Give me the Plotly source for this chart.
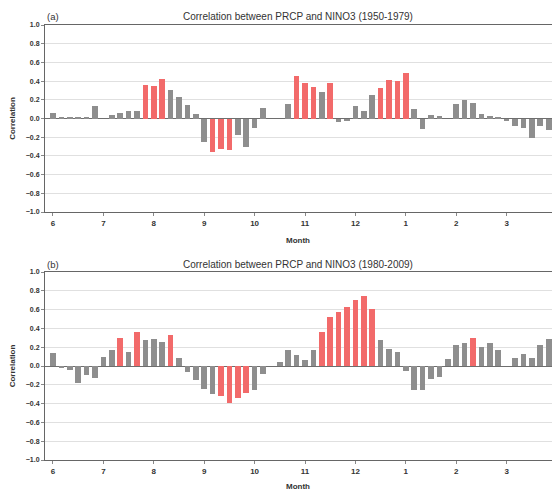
import plotly.graph_objects as go

# Pentad index (6 per month), Jun..Mar
month_labels = ["6", "7", "8", "9", "10", "11", "12", "1", "2", "3"]

corr_a = [0.06, 0.02, 0.02, 0.01, 0.02, 0.13,
          0.00, 0.04, 0.06, 0.08, 0.08, 0.36,
          0.35, 0.42, 0.30, 0.23, 0.14, 0.05,
          -0.25, -0.36, -0.33, -0.34, -0.18, -0.31,
          -0.10, 0.11, 0.00, 0.00, 0.16, 0.45,
          0.38, 0.34, 0.28, 0.38, -0.04, -0.03,
          0.13, 0.08, 0.25, 0.33, 0.41, 0.40,
          0.49, 0.10, -0.11, 0.04, 0.03, 0.00,
          0.15, 0.20, 0.17, 0.05, 0.03, 0.02,
          -0.03, -0.08, -0.10, -0.21, -0.08, -0.12]
sig_a = [0, 0, 0, 0, 0, 0,
         0, 0, 0, 0, 0, 1,
         1, 1, 0, 0, 0, 0,
         0, 1, 1, 1, 0, 0,
         0, 0, 0, 0, 0, 1,
         1, 1, 0, 1, 0, 0,
         0, 0, 0, 1, 1, 1,
         1, 0, 0, 0, 0, 0,
         0, 0, 0, 0, 0, 0,
         0, 0, 0, 0, 0, 0]

corr_b = [0.14, -0.02, -0.04, -0.18, -0.10, -0.13,
          0.10, 0.17, 0.30, 0.15, 0.36, 0.28,
          0.29, 0.26, 0.33, 0.08, -0.06, -0.15,
          -0.24, -0.30, -0.32, -0.39, -0.34, -0.29,
          -0.26, -0.09, 0.00, 0.04, 0.17, 0.12,
          0.06, 0.17, 0.36, 0.52, 0.57, 0.63,
          0.70, 0.75, 0.61, 0.28, 0.18, 0.15,
          -0.05, -0.25, -0.25, -0.14, -0.12, 0.07,
          0.22, 0.25, 0.30, 0.20, 0.24, 0.17,
          0.00, 0.09, 0.13, 0.09, 0.22, 0.29]
sig_b = [0, 0, 0, 0, 0, 0,
         0, 0, 1, 0, 1, 0,
         0, 0, 1, 0, 0, 0,
         0, 0, 1, 1, 1, 1,
         0, 0, 0, 0, 0, 0,
         0, 0, 1, 1, 1, 1,
         1, 1, 1, 0, 0, 0,
         0, 0, 0, 0, 0, 0,
         0, 0, 1, 0, 0, 0,
         0, 0, 0, 0, 0, 0]

RED = "#f26a6a"
GRAY = "#8e8e8e"
FONT = "Arial, Liberation Sans, sans-serif"

W, H = 552, 492
idx = list(range(len(corr_a)))
tickvals = list(range(0, 60, 6))

fig = go.Figure()
fig.add_trace(go.Bar(x=idx, y=corr_a, marker_color=[RED if s else GRAY for s in sig_a],
                     marker_line_width=0, width=0.68, xaxis="x", yaxis="y", showlegend=False))
fig.add_trace(go.Bar(x=idx, y=corr_b, marker_color=[RED if s else GRAY for s in sig_b],
                     marker_line_width=0, width=0.68, xaxis="x2", yaxis="y2", showlegend=False))

def px_y(p):
    return 1 - p / H

xcommon = dict(range=[-0.95, 59.4], tickvals=tickvals, ticktext=month_labels,
               showline=True, linecolor="#666", linewidth=1, mirror=True,
               ticks="outside", ticklen=3, tickcolor="#888", showgrid=False, zeroline=False,
               automargin=False,
               tickfont=dict(family=FONT, size=8, color="#333", weight="bold"), domain=[0, 1])
ycommon = dict(range=[-1.0, 1.0], dtick=0.2, tickformat=".1f", showline=True, linecolor="#666",
               linewidth=1, ticks="outside", ticklen=3, tickcolor="#888",
               showgrid=True, gridcolor="#e0e0e0", gridwidth=1,
               zeroline=True, zerolinecolor="#6e6e6e", zerolinewidth=1.2, automargin=False,
               tickfont=dict(family=FONT, size=7, color="#333", weight="bold"),
               title=dict(text="<b>Correlation</b>", font=dict(family=FONT, size=8, color="#333"), standoff=8))

fig.update_layout(
    width=W, height=H,
    margin=dict(l=45, r=0, t=0, b=0, autoexpand=False),
    plot_bgcolor="white", paper_bgcolor="white",
    bargap=0,
    xaxis=dict(**xcommon, anchor="y"),
    yaxis=dict(**ycommon, domain=[px_y(212), px_y(25)], anchor="x"),
    xaxis2=dict(**xcommon, anchor="y2"),
    yaxis2=dict(**ycommon, domain=[px_y(460), px_y(272)], anchor="x2"),
)

def ann(text, xpx, ypx, size=9, bold=False):
    fig.add_annotation(text=f"<b>{text}</b>" if bold else text, xref="paper", yref="paper",
                       x=(xpx - 45) / (W - 45), y=px_y(ypx), showarrow=False,
                       font=dict(family=FONT, size=size, color="#333"),
                       xanchor="center", yanchor="middle")

ann("(a)", 53, 17, size=9.5)
ann("Correlation between PRCP and NINO3 (1950-1979)", 298, 17, size=10)
ann("(b)", 53, 264, size=9.5)
ann("Correlation between PRCP and NINO3 (1980-2009)", 298, 264, size=10)
ann("Month", 298, 240, size=8, bold=True)
ann("Month", 298, 486, size=8, bold=True)

fig.write_html("out.html", config={"displayModeBar": False},
               post_script="document.body.style.margin='0';document.body.style.overflow='hidden';")
